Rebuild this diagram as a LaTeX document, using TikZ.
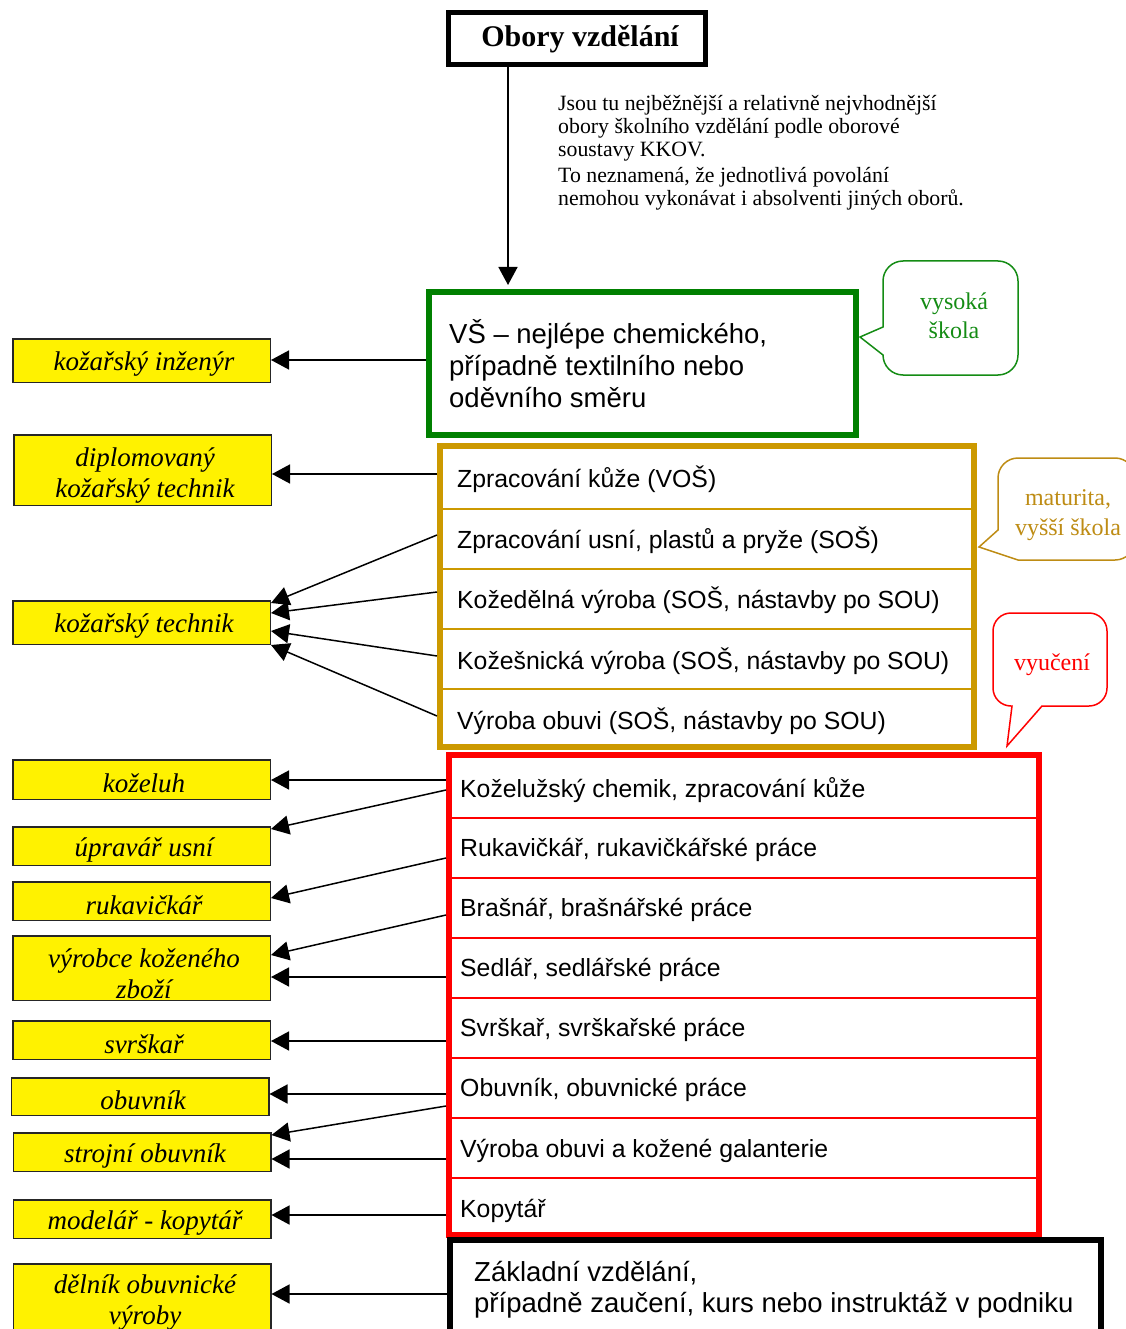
\documentclass[tikz,border=0pt]{standalone}
\usepackage{fontspec}
\setmainfont{Liberation Serif}
\newfontfamily\arialf{Liberation Sans}
\usetikzlibrary{arrows.meta}
\definecolor{vsgreen}{RGB}{0,128,0}
\definecolor{goldc}{RGB}{204,153,0}
\definecolor{goldtxt}{RGB}{190,140,20}
\definecolor{callgreen}{RGB}{20,140,20}
\definecolor{redc}{RGB}{255,0,0}
\begin{document}
\begin{tikzpicture}[x=1pt,y=-1pt,
  ybox/.style={draw=black!85, line width=1.5pt, fill=yellow, minimum width=257.5pt, inner sep=0pt},
  ytxt/.style={inner sep=0pt, align=center, font=\fontsize{27}{31}\selectfont\itshape},
  arr/.style={line width=1.5pt, -{Triangle[length=18pt,width=19pt]}},
  rowtxt/.style={anchor=west, inner sep=0pt, font=\arialf\fontsize{24.8}{30}\selectfont},
  bigtxt/.style={anchor=west, inner sep=0pt, align=left, font=\arialf\fontsize{27.5}{32}\selectfont},
  golddiv/.style={goldc, line width=1.5pt},
  reddiv/.style={redc, line width=1.2pt},
  callout/.style={line width=1.5pt, fill=white, line join=miter},
  calltxt/.style={inner sep=0pt, align=center, font=\fontsize{24}{29.5}\selectfont}
]
\useasboundingbox (0,0) rectangle (1125,1329);

% title
\node[draw, line width=5pt, minimum width=257pt, minimum height=52pt, inner sep=0pt] (title) at (577,38.5) {};
\node[inner sep=0pt, font=\fontsize{30}{34}\selectfont\bfseries] (titletext) at (580,39.5) {Obory vzdělání};

% note
\node[anchor=north west, inner sep=0pt, align=left, font=\fontsize{21.8}{23}\selectfont] (note) at (558,95)
  {Jsou tu nejběžnější a relativně nejvhodnější\\obory školního vzdělání podle oborové\\soustavy KKOV.\\[3pt]To neznamená, že jednotlivá povolání\\nemohou vykonávat i absolventi jiných oborů.};

% VS box
\node[draw=vsgreen, line width=6pt, minimum width=427pt, minimum height=143pt, inner sep=0pt] (vs) at (642.5,363.5) {};
\node[bigtxt] (vstext) at (449,364) {VŠ – nejlépe chemického,\\případně textilního nebo\\oděvního směru};

% gold box
\node[draw=goldc, line width=6pt, minimum width=534pt, minimum height=301pt, inner sep=0pt] (gold) at (707,596.5) {};
\foreach \yy in {509,569,629,689} \draw[golddiv] (442,\yy) -- (972,\yy);
\node[rowtxt] (g1) at (457,479) {Zpracování kůže (VOŠ)};
\node[rowtxt] (g2) at (457,540) {Zpracování usní, plastů a pryže (SOŠ)};
\node[rowtxt] (g3) at (457,600) {Kožedělná výroba (SOŠ, nástavby po SOU)};
\node[rowtxt] (g4) at (457,661) {Kožešnická výroba (SOŠ, nástavby po SOU)};
\node[rowtxt] (g5) at (457,721) {Výroba obuvi (SOŠ, nástavby po SOU)};

% red box
\node[draw=redc, line width=6pt, minimum width=590pt, minimum height=480pt, inner sep=0pt] (red) at (744,995) {};
\foreach \yy in {818,878,938,998,1058,1118,1178} \draw[reddiv] (452,\yy) -- (1036,\yy);
\node[rowtxt] (r1) at (460,790) {Koželužský chemik, zpracování kůže};
\node[rowtxt] (r2) at (460,850) {Rukavičkář, rukavičkářské práce};
\node[rowtxt] (r3) at (460,910) {Brašnář, brašnářské práce};
\node[rowtxt] (r4) at (460,970) {Sedlář, sedlářské práce};
\node[rowtxt] (r5) at (460,1030) {Svrškař, svrškařské práce};
\node[rowtxt] (r6) at (460,1090) {Obuvník, obuvnické práce};
\node[rowtxt] (r7) at (460,1151) {Výroba obuvi a kožené galanterie};
\node[rowtxt] (r8) at (460,1211) {Kopytář};

% base box
\node[draw, fill=white, line width=6pt, minimum width=651pt, minimum height=102pt, inner sep=0pt] (base) at (775.5,1291) {};
\node[bigtxt, font=\arialf\fontsize{27.5}{31}\selectfont] (basetext) at (474,1289.5) {Základní vzdělání,\\případně zaučení, kurs nebo instruktáž v podniku};

% callouts
\draw[callout, draw=callgreen] (860,337) -- (883,327) -- (883,281)
  arc[start angle=180, end angle=90, radius=20pt] -- (998,261)
  arc[start angle=90, end angle=0, radius=20pt] -- (1018,355)
  arc[start angle=0, end angle=-90, radius=20pt] -- (903,375)
  arc[start angle=-90, end angle=-180, radius=20pt] -- cycle;
\node[calltxt, text=callgreen] (vscall) at (954,316) {vysoká\\škola};

\draw[callout, draw=goldtxt] (979,547) -- (998,530) -- (998,478)
  arc[start angle=180, end angle=90, radius=20pt] -- (1115,458)
  arc[start angle=90, end angle=0, radius=20pt] -- (1135,540)
  arc[start angle=0, end angle=-90, radius=20pt] -- (1018,560) -- cycle;
\node[calltxt, text=goldtxt] (goldcall) at (1068,515) {maturita,\\vyšší škola};

\draw[callout, draw=redc] (1007,746) -- (1012,706) -- (1011,706)
  arc[start angle=-90, end angle=-180, radius=18pt] -- (993,631)
  arc[start angle=180, end angle=90, radius=18pt] -- (1089,613)
  arc[start angle=90, end angle=0, radius=18pt] -- (1107,688)
  arc[start angle=0, end angle=-90, radius=18pt] -- (1042,706) -- cycle;
\node[calltxt, text=redc] (redcall) at (1052,665) {vyučení};

% yellow boxes
\node[ybox, minimum height=43.5pt] (y1) at (141.5,360.5) {};
\node[ybox, minimum height=70.5pt] (y2) at (142.5,470) {};
\node[ybox, minimum height=43.5pt] (y3) at (141.5,622.5) {};
\node[ybox, minimum height=39.5pt] (y4) at (141.5,779.5) {};
\node[ybox, minimum height=38.5pt] (y5) at (141.5,846) {};
\node[ybox, minimum height=38.5pt] (y6) at (141.5,901) {};
\node[ybox, minimum height=64.5pt] (y7) at (141.5,968) {};
\node[ybox, minimum height=38.5pt] (y8) at (141.5,1040) {};
\node[ybox, minimum height=37.5pt] (y9) at (140,1096.5) {};
\node[ybox, minimum height=38.5pt] (y10) at (142,1152) {};
\node[ybox, minimum height=38.5pt] (y11) at (142,1219) {};
\node[ybox, minimum height=75.5pt] (y12) at (142,1301.5) {};

\node[ytxt] (t1) at (144,364) {kožařský inženýr};
\node[ytxt] (t2) at (145,476) {diplomovaný\\kožařský technik};
\node[ytxt] (t3) at (144,626) {kožařský technik};
\node[ytxt] (t4) at (144,783) {koželuh};
\node[ytxt] (t5) at (144,850) {úpravář usní};
\node[ytxt] (t6) at (144,905) {rukavičkář};
\node[ytxt] (t7) at (144,974) {výrobce koženého\\zboží};
\node[ytxt] (t8) at (144,1044) {svrškař};
\node[ytxt] (t9) at (143,1100) {obuvník};
\node[ytxt] (t10) at (145,1156) {strojní obuvník};
\node[ytxt] (t11) at (145,1223) {modelář - kopytář};
\node[ytxt] (t12) at (145,1303) {dělník obuvnické\\výroby};

% connectors
\draw[arr, shorten >=4pt] (title.south -| 508,0) -- (vs.north -| 508,0);
\draw[arr] (vs.west |- 0,360) -- (y1.east |- 0,360);
\draw[arr] (gold.west |- 0,474) -- (y2.east |- 0,474);
\draw[arr] (gold.west |- 0,535) -- (y3.east |- 0,603);
\draw[arr] (gold.west |- 0,592) -- (y3.east |- 0,613);
\draw[arr] (gold.west |- 0,656) -- (y3.east |- 0,631);
\draw[arr] (gold.west |- 0,716) -- (y3.east |- 0,645);
\draw[arr] (red.west |- 0,780) -- (y4.east |- 0,780);
\draw[arr] (red.west |- 0,790) -- (y5.east |- 0,829);
\draw[arr] (red.west |- 0,858) -- (y6.east |- 0,898);
\draw[arr] (red.west |- 0,915) -- (y7.east |- 0,955);
\draw[arr] (red.west |- 0,977) -- (y7.east |- 0,977);
\draw[arr] (red.west |- 0,1041) -- (y8.east |- 0,1041);
\draw[arr] (red.west |- 0,1094) -- (y9.east |- 0,1094);
\draw[arr] (red.west |- 0,1106) -- (y10.east |- 0,1135);
\draw[arr] (red.west |- 0,1159) -- (y10.east |- 0,1159);
\draw[arr] (red.west |- 0,1215) -- (y11.east |- 0,1215);
\draw[arr] (base.west |- 0,1294) -- (y12.east |- 0,1294);
\end{tikzpicture}
\end{document}
